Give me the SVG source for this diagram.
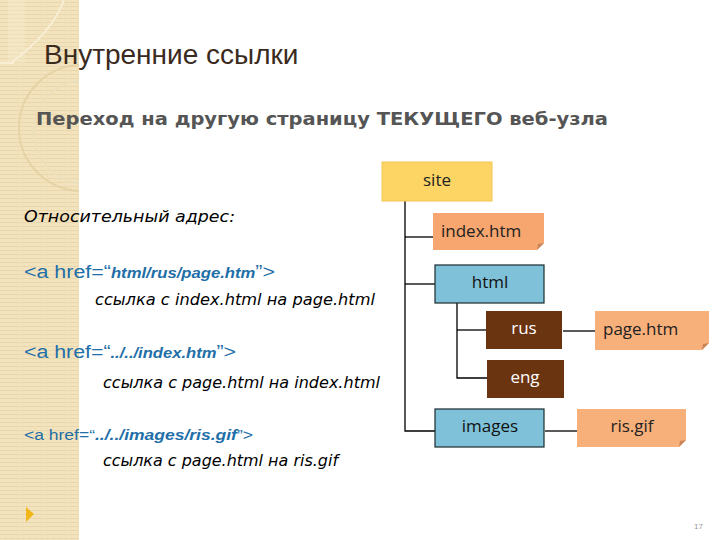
<svg xmlns="http://www.w3.org/2000/svg" width="720" height="540" viewBox="0 0 720 540">
<defs>
<pattern id="stripes" width="6" height="4" patternUnits="userSpaceOnUse">
<rect width="6" height="4" fill="#f3e4bf"/>
<rect y="2" width="6" height="1" fill="#e9d6a8"/>
<rect x="5" width="1" height="4" fill="#efdfb6"/>
</pattern>
<clipPath id="strip"><rect x="0" y="0" width="79" height="540"/></clipPath>
<style>
.t{font-family:"Liberation Sans",Arial,sans-serif}
.lbl{font-family:"Open Sans","DejaVu Sans",sans-serif;font-size:17px;text-anchor:middle}
.lbls{font-family:"Open Sans","DejaVu Sans",sans-serif;font-size:17px;text-anchor:start}
.ln{stroke:#000;stroke-width:1.3;fill:none}
.code{fill:#1f6fa8;font-family:"Liberation Sans",Arial,sans-serif}
.desc{font-family:"DejaVu Sans","Liberation Sans",sans-serif;font-style:italic;font-size:15px;fill:#000}
</style>
</defs>
<rect width="720" height="540" fill="#fff"/>
<g id="strip-bg" clip-path="url(#strip)">
<rect x="0" y="0" width="79" height="540" fill="url(#stripes)"/>
<rect x="8" y="0" width="17" height="63" fill="#f7edd2" opacity="0.35"/>
<path d="M64,0 C55,25 35,45 12,62" stroke="#f8eed6" stroke-width="2" fill="none"/>
<line x1="0" y1="63" x2="14" y2="63" stroke="#f8eed6" stroke-width="2"/>
<circle cx="82" cy="128" r="63" stroke="#e6d3a5" stroke-width="2" fill="none"/>
<circle cx="86" cy="132" r="52" stroke="#ece0bc" stroke-width="2" fill="none"/>
</g>
<text class="t" x="44" y="64" font-size="28" fill="#3b2a20">Внутренние ссылки</text>
<text x="36" y="125" font-family="DejaVu Sans, sans-serif" font-size="17" font-weight="bold" fill="#555" textLength="572" lengthAdjust="spacingAndGlyphs">Переход на другую страницу ТЕКУЩЕГО веб-узла</text>
<text class="desc" x="24" y="222" textLength="211" lengthAdjust="spacingAndGlyphs">Относительный адрес:</text>
<text class="code" x="24" y="278" font-size="18" textLength="251" lengthAdjust="spacingAndGlyphs">&lt;a href=“<tspan font-size="14" font-weight="bold" font-style="italic">html/rus/page.htm</tspan>”&gt;</text>
<text class="desc" x="95" y="305" textLength="280" lengthAdjust="spacingAndGlyphs">ссылка с index.html на page.html</text>
<text class="code" x="24" y="358" font-size="18" textLength="212" lengthAdjust="spacingAndGlyphs">&lt;a href=“<tspan font-size="14" font-weight="bold" font-style="italic">../../index.htm</tspan>”&gt;</text>
<text class="desc" x="103" y="388" textLength="277" lengthAdjust="spacingAndGlyphs">ссылка с page.html на index.html</text>
<text class="code" x="24" y="440" font-size="14" textLength="229" lengthAdjust="spacingAndGlyphs">&lt;a href=“<tspan font-size="14" font-weight="bold" font-style="italic">../../images/ris.gif</tspan>”&gt;</text>
<text class="desc" x="103" y="466" textLength="235" lengthAdjust="spacingAndGlyphs">ссылка с page.html на ris.gif</text>
<g id="connectors">
<path class="ln" d="M405,201 V431 H435"/>
<path class="ln" d="M405,237 H433"/>
<path class="ln" d="M405,284 H435"/>
<path class="ln" d="M457,303 V378 H487"/>
<path class="ln" d="M457,330 H486"/>
<path class="ln" d="M563,331 H595"/>
<path class="ln" d="M545,431 H577"/>
</g>
<g id="site">
<rect x="382" y="162" width="110" height="39" fill="#fdd565" stroke="#f2c55a" stroke-width="1"/>
<text class="lbl" x="437" y="186" fill="#222">site</text>
</g>
<g id="index">
<path d="M433,213 H544 V243 L537,250 H433 Z" fill="#f6a66e"/>
<path d="M537,250 L538,244 L544,243 Z" fill="#c98557"/>
<text class="lbls" x="441" y="237" fill="#222">index.htm</text>
</g>
<g id="html">
<rect x="435" y="265" width="109" height="38" fill="#7fc1d8" stroke="#1a2a30" stroke-width="1.2"/>
<text class="lbl" x="490" y="288" fill="#111">html</text>
</g>
<g id="rus">
<rect x="486" y="311" width="76" height="38" fill="#6b3410"/>
<text class="lbl" x="524" y="334" fill="#fff">rus</text>
</g>
<g id="eng">
<rect x="487" y="360" width="77" height="38" fill="#6b3410"/>
<text class="lbl" x="525" y="383" fill="#fff">eng</text>
</g>
<g id="page">
<path d="M595,311 H709 V343 L702,350 H595 Z" fill="#f8b07b"/>
<path d="M702,350 L703,344 L709,343 Z" fill="#c98557"/>
<text class="lbls" x="603" y="335" fill="#222">page.htm</text>
</g>
<g id="images">
<rect x="435" y="409" width="109" height="38" fill="#7fc1d8" stroke="#1a2a30" stroke-width="1.2"/>
<text class="lbl" x="490" y="432" fill="#111">images</text>
</g>
<g id="risgif">
<path d="M577,409 H686 V440 L679,447 H577 Z" fill="#f8b07b"/>
<path d="M679,447 L680,441 L686,440 Z" fill="#c98557"/>
<text class="lbl" x="632" y="432" fill="#222">ris.gif</text>
</g>
<polygon points="26,507 34,514 26,522" fill="#f2b619"/>
<text class="t" x="694" y="529" font-size="8" fill="#999">17</text>
</svg>
